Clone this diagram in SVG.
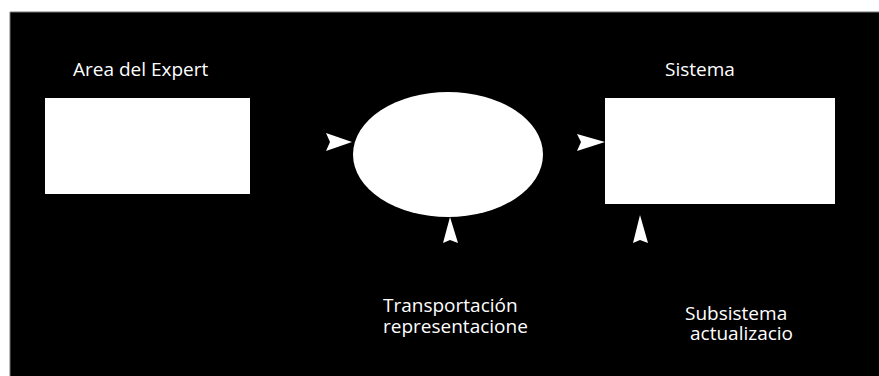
<svg xmlns="http://www.w3.org/2000/svg" width="879" height="376" viewBox="0 0 879 376">
<style>
.shape{fill:#ffffff;stroke:none}
.arrow{fill:#ffffff;stroke:none}
.lbl{font-family:"Open Sans","DejaVu Sans",sans-serif;font-size:19px;fill:#ffffff}
</style>
<rect x="0" y="0" width="879" height="376" fill="#ffffff"/>
<rect x="10" y="12" width="880" height="380" fill="#000000"/>
<line x1="10" y1="12" x2="879" y2="12" stroke="#777777" stroke-width="1"/>
<line x1="10" y1="12" x2="10" y2="376" stroke="#777777" stroke-width="1"/>
<g id="node-experto">
<text class="lbl" x="73" y="76">Area del Expert</text>
<rect class="shape" x="45" y="98" width="205" height="96"/>
</g>
<g id="node-transportacion">
<ellipse class="shape" cx="448" cy="154.5" rx="95" ry="62.5"/>
</g>
<g id="node-sistema">
<text class="lbl" x="665" y="76">Sistema</text>
<rect class="shape" x="605" y="98" width="230" height="106"/>
</g>
<g id="label-transportacion">
<text class="lbl" x="383" y="312">Transportación</text>
<text class="lbl" x="383" y="333">representacione</text>
</g>
<g id="label-subsistema">
<text class="lbl" x="685" y="320">Subsistema</text>
<text class="lbl" x="690" y="340">actualizacio</text>
</g>
<g id="connectors">
<polygon class="arrow" points="326,133 352,142 326,151 330,142"/>
<polygon class="arrow" points="577,134 605,142 577,151 581,142"/>
<polygon class="arrow" points="450,217 458,243 450,240 443,243"/>
<polygon class="arrow" points="640,215 648,243 640,240 633,243"/>
</g>
</svg>
